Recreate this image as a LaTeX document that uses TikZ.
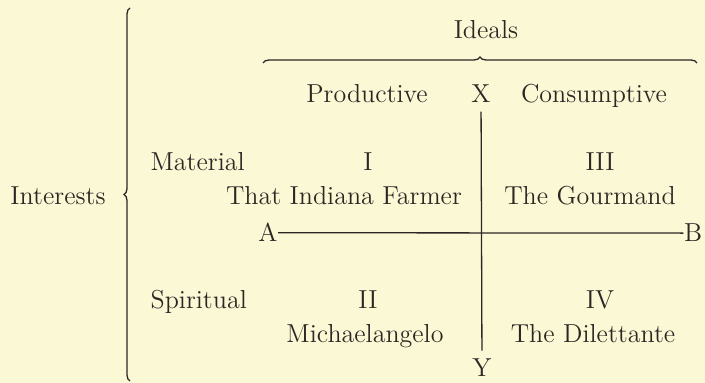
\documentclass[tikz,border=0pt]{standalone}
\usepackage{fontspec}
\usepackage{tikz}
\usetikzlibrary{positioning, decorations.pathreplacing}
\definecolor{paper}{RGB}{251,248,214}
\definecolor{ink}{RGB}{44,39,35}

\begin{document}
\begin{tikzpicture}[x=0.5pt, y=0.5pt, color=ink, line width=0.65pt,
    every node/.style={font=\fontsize{13}{15}\selectfont, text=ink},
    word/.style={anchor=base, inner sep=1pt},
    pole/.style={anchor=base, inner sep=4pt},
    curly/.style={decorate, decoration={brace, amplitude=3pt}}]
  \fill[paper] (0,0) rectangle (705,383);
  \useasboundingbox (0,0) rectangle (705,383);

  % headings
  \node[word] (ideals) at (486,344) {Ideals};
  \node[word] (prod) at (367,280) {Productive};
  \node[pole] (X) at (481,280) {X};
  \node[word] (cons) at (594,280) {Consumptive};
  \node[word] (interests) at (58,178) {Interests};
  \node[word, anchor=base west] (material) at (148,212) {Material};
  \node[word, anchor=base west] (spiritual) at (148,74) {Spiritual};

  % quadrants
  \node[word] (q1) at (368,212) {I};
  \node[word] (farmer) at (344,178) {That Indiana Farmer};
  \node[word] (q3) at (600,212) {III};
  \node[word] (gourmand) at (590,178) {The Gourmand};
  \node[word] (q2) at (368,74) {II};
  \node[word] (michael) at (365,40) {Michaelangelo};
  \node[word] (q4) at (600,74) {IV};
  \node[word] (dilettante) at (593,40) {The Dilettante};

  \node[word, inner sep=0pt] (A) at (268,141) {A};
  \node[word, inner sep=0pt] (B) at (693,141) {B};
  \node[pole] (Y) at (482,6) {Y};

  \path (A) edge (B)
        (X) edge (Y);

  \draw[curly] (130,2) -- (130,375);
  \draw[curly] (263,320) -- (697,320);
\end{tikzpicture}
\end{document}
